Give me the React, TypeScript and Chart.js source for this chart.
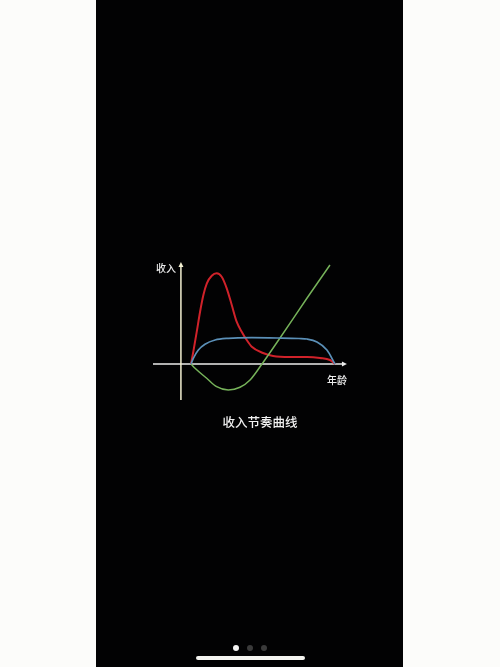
import React, { useEffect, useRef } from 'react';
import { Chart, registerables } from 'chart.js';

Chart.register(...registerables);

// age runs 0..100 from the start to the end of the curves, income 0 on the x axis
const redAge = [0, 1.6, 4.0, 6.3, 8.6, 11, 14.4, 17.8, 21.3, 24.8, 28.3, 31.7, 35.2, 38.7, 42.2, 50, 57, 68.8, 80.6, 89.6, 96.5, 100];
const redIncome = [0, 12.3, 32.3, 52.3, 69, 80.7, 88.3, 90.7, 87.3, 75.7, 59, 42.3, 32.3, 24, 17.3, 11, 8, 7, 7, 6, 4, 0];

const blueAge = [0, 1.6, 5.1, 9.7, 16.7, 25.9, 42.2, 60, 75, 80.6, 87.5, 94.4, 100];
const blueIncome = [0, 5.7, 14, 19.7, 24, 25.7, 26.3, 26, 25.5, 25, 22, 14, 0];

const greenAge = [0, 2.8, 10.9, 17.8, 25.9, 34, 41, 49.3, 61.8, 80.6, 96.5];
const greenIncome = [0, -4.3, -14.3, -22.7, -26, -23.3, -16, 0, 26, 66, 99];

const yLabel = '收入';
const xLabel = '年龄';
const title = '收入节奏曲线';

const toPoints = (xs: number[], ys: number[]) => xs.map((x, i) => ({ x, y: ys[i] }));

const axesPlugin = {
  id: 'arrowAxes',
  beforeDatasetsDraw(chart: any) {
    const { ctx, scales } = chart;
    const sx = scales.x;
    const sy = scales.y;
    const x0 = sx.getPixelForValue(-26.4);
    const x1 = sx.getPixelForValue(108.3);
    const y0 = sy.getPixelForValue(0);
    const ax = sx.getPixelForValue(-7);
    const ayTop = sy.getPixelForValue(102);
    const ayBottom = sy.getPixelForValue(-36);

    ctx.save();
    ctx.lineWidth = 1.5;
    // x axis
    ctx.strokeStyle = '#ececec';
    ctx.fillStyle = '#ececec';
    ctx.beginPath();
    ctx.moveTo(x0, y0);
    ctx.lineTo(x1 - 3, y0);
    ctx.stroke();
    ctx.beginPath();
    ctx.moveTo(x1, y0);
    ctx.lineTo(x1 - 5, y0 - 2.5);
    ctx.lineTo(x1 - 5, y0 + 2.5);
    ctx.closePath();
    ctx.fill();
    // y axis
    ctx.strokeStyle = '#f3f0d2';
    ctx.fillStyle = '#f3f0d2';
    ctx.beginPath();
    ctx.moveTo(ax, ayBottom);
    ctx.lineTo(ax, ayTop + 3);
    ctx.stroke();
    ctx.beginPath();
    ctx.moveTo(ax, ayTop);
    ctx.lineTo(ax - 2.5, ayTop + 5);
    ctx.lineTo(ax + 2.5, ayTop + 5);
    ctx.closePath();
    ctx.fill();

    ctx.fillStyle = '#ececec';
    ctx.font = '500 10px "Noto Sans CJK SC"';
    ctx.textBaseline = 'middle';
    ctx.textAlign = 'right';
    ctx.fillText(yLabel, ax - 5, ayTop + 6);
    ctx.textAlign = 'center';
    ctx.fillText(xLabel, x1 - 10, y0 + 16);
    ctx.restore();
  },
};

const IncomeChart: React.FC = () => {
  const chartRef = useRef<HTMLCanvasElement>(null);
  const chartInstanceRef = useRef<Chart | null>(null);

  useEffect(() => {
    if (!chartRef.current) return;
    if (chartInstanceRef.current) chartInstanceRef.current.destroy();
    const ctx = chartRef.current.getContext('2d');
    if (!ctx) return;
    const line = (xs: number[], ys: number[], color: string, width: number) => ({
      data: toPoints(xs, ys),
      borderColor: color,
      borderWidth: width,
      pointRadius: 0,
      fill: false,
      cubicInterpolationMode: 'monotone' as const,
    });
    chartInstanceRef.current = new Chart(ctx, {
      type: 'line',
      data: {
        datasets: [
          line(blueAge, blueIncome, '#5b90b8', 1.7),
          line(greenAge, greenIncome, '#76b25a', 1.5),
          line(redAge, redIncome, '#d0222a', 2),
        ],
      },
      options: {
        animation: false,
        responsive: true,
        maintainAspectRatio: false,
        layout: { padding: 0 },
        scales: {
          x: { type: 'linear', min: -35.42, max: 117.36, display: false },
          y: { type: 'linear', min: -56, max: 114, display: false },
        },
        plugins: {
          legend: { display: false },
          tooltip: { enabled: false },
        },
      },
      plugins: [axesPlugin],
    });
    return () => {
      if (chartInstanceRef.current) {
        chartInstanceRef.current.destroy();
        chartInstanceRef.current = null;
      }
    };
  }, []);

  return (
    <div style={{ position: 'absolute', left: 140, top: 250, width: 220, height: 170 }}>
      <canvas ref={chartRef}></canvas>
    </div>
  );
};

const App: React.FC = () => {
  const dot = (left: number, color: string) => (
    <div style={{ position: 'absolute', left: left - 3, top: 645, width: 6, height: 6, borderRadius: 3, background: color }} />
  );
  return (
    <div style={{ position: 'fixed', left: 0, top: 0, width: 500, height: 667, background: '#fcfcfa', overflow: 'hidden' }}>
      <div style={{ position: 'absolute', left: 96, top: 0, width: 307, height: 667, background: '#020203' }} />
      <IncomeChart />
      <div
        style={{
          position: 'absolute',
          left: 200,
          top: 413,
          width: 120,
          textAlign: 'center',
          color: '#f0f0f0',
          font: '500 12.5px "Noto Sans CJK SC"',
          lineHeight: '18px',
        }}
      >
        {title}
      </div>
      {dot(236, '#f4f4f4')}
      {dot(250, '#3a3a3a')}
      {dot(264, '#3a3a3a')}
      <div style={{ position: 'absolute', left: 196, top: 656, width: 109, height: 4, borderRadius: 2, background: '#f4f4f0' }} />
    </div>
  );
};

export default App;
